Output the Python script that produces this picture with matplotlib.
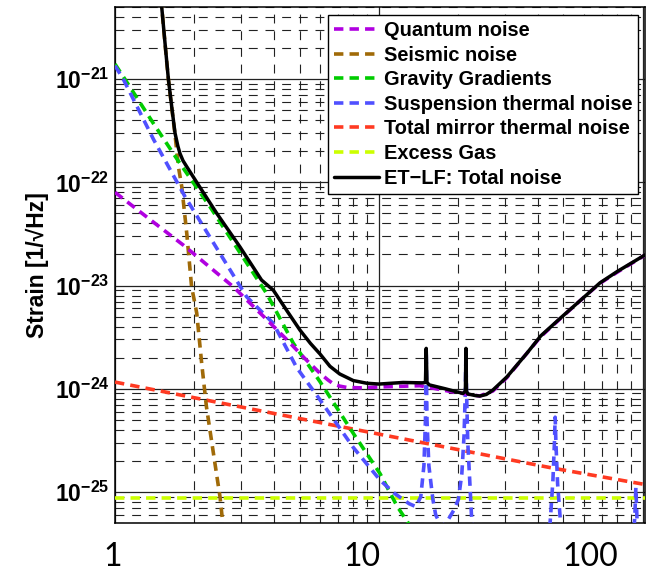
import matplotlib
matplotlib.use("Agg")
import matplotlib.pyplot as plt
from matplotlib.ticker import LogLocator, NullFormatter

# ---------------- data ----------------
quantum_f = [1.0, 1.4, 1.82, 2.81, 3.75, 4.47, 5.2, 5.98, 6.4, 6.7, 7.1, 7.54, 8.5, 10.0, 14.3,
             19.1, 22.0, 24.1, 27.0, 30.5, 36.3, 41.0, 48.7, 61.1, 68.7, 80.0, 101.8]
quantum_h = [8.0e-23, 4.1e-23, 2.45e-23, 9.7e-24, 4.7e-24, 3.0e-24, 2.0e-24, 1.41e-24, 1.22e-24,
             1.12e-24, 1.06e-24, 1.03e-24, 1.02e-24, 1.04e-24, 1.07e-24, 9.3e-25, 8.8e-25,
             8.5e-25, 9.5e-25, 1.28e-24, 2.2e-24, 3.2e-24, 4.8e-24, 8.1e-24, 1.05e-23,
             1.35e-23, 1.97e-23]

seismic_f = [1.47, 1.503, 1.547, 1.593, 1.64, 1.688, 1.74, 1.79, 1.87, 1.95, 2.04, 2.13, 2.22,
             2.36, 2.50, 2.56, 2.7]
seismic_h = [8.0e-21, 5.0e-21, 2.2e-21, 1.0e-21, 5.3e-22, 2.9e-22, 1.4e-22, 9.1e-23, 3.2e-23,
             9.8e-24, 5.4e-24, 1.76e-24, 6.7e-25, 2.36e-25, 8.9e-26, 5.0e-26, 1.5e-26]

gravity_f = [1.0, 1.09, 1.40, 1.76, 2.29, 3.75, 4.74, 5.98, 7.99, 10.1, 11.7, 12.9, 14.0]
gravity_h = [1.4e-21, 1.0e-21, 3.7e-22, 1.53e-22, 5.8e-23, 8.4e-24, 2.75e-24, 1.17e-24, 3.7e-25,
             1.5e-25, 7.3e-26, 5.0e-26, 3.0e-26]

susp_f = [1.0, 1.075, 1.40, 1.84, 3.15, 3.98, 4.88, 5.98, 7.99, 10.1, 11.5, 13.0, 13.8, 14.4,
          14.8, 15.0, 15.1, 15.2, 15.45, 16.0, 16.4, 17.3, 18.3, 19.3, 20.0, 20.6, 21.0, 21.25,
          21.35, 21.45, 21.7, 22.1, 22.4, 23.0, 30.0, 40.0, 44.0, 44.6, 45.6, 46.2, 46.5, 46.8,
          47.5, 48.6, 49.5, 60.0, 80.0, 92.0, 93.2, 94.0, 94.8, 96.0, 102.0]
susp_h = [1.35e-21, 1.0e-21, 2.6e-22, 7.3e-23, 7.8e-24, 4.3e-24, 1.6e-24, 7.8e-25, 2.7e-25,
          1.3e-25, 9.6e-26, 7.7e-26, 7.2e-26, 9.0e-26, 1.8e-25, 5.0e-25, 2.3e-24, 5.0e-25,
          1.8e-25, 8.5e-26, 6.0e-26, 4.5e-26, 5.4e-26, 6.8e-26, 8.5e-26, 1.5e-25, 3.5e-25,
          1.0e-24, 2.3e-24, 1.0e-24, 3.0e-25, 1.2e-25, 6.0e-26, 3.0e-26, 1.0e-26, 1.5e-26,
          3.5e-26, 5.5e-26, 1.3e-25, 3.0e-25, 5.3e-25, 3.0e-25, 1.2e-25, 5.5e-26, 3.5e-26,
          1.0e-26, 1.2e-26, 3.5e-26, 6.0e-26, 1.1e-25, 6.0e-26, 3.0e-26, 1.0e-26]

mirror_f = [1.0, 6.52, 45.6, 102.0]
mirror_h = [1.16e-24, 4.5e-25, 1.7e-25, 1.18e-25]

gas_f = [1.0, 102.0]
gas_h = [8.7e-26, 8.7e-26]

total_f = [1.47, 1.503, 1.547, 1.593, 1.64, 1.688, 1.73, 1.763, 1.81, 1.869, 2.04, 2.43, 2.97,
           3.59, 3.98, 4.5, 5.02, 5.5, 5.98, 6.52, 7.1, 7.99, 9.0, 10.0, 12.34, 14.6, 15.0,
           15.1, 15.2, 15.5, 17.8, 20.8, 21.25, 21.35, 21.45, 21.7, 23.1, 24.1, 25.5, 27.0,
           30.5, 36.3, 41.0, 48.7, 61.1, 68.7, 80.0, 101.8]
total_h = [8.0e-21, 5.0e-21, 2.23e-21, 1.0e-21, 5.4e-22, 3.0e-22, 2.25e-22, 1.9e-22, 1.62e-22,
           1.42e-22, 1.0e-22, 5.0e-23, 2.38e-23, 1.13e-23, 9.0e-24, 5.6e-24, 3.7e-24, 2.75e-24,
           2.17e-24, 1.65e-24, 1.39e-24, 1.2e-24, 1.13e-24, 1.11e-24, 1.15e-24, 1.14e-24,
           1.15e-24, 2.46e-24, 1.15e-24, 1.09e-24, 1.0e-24, 9.0e-25, 9.5e-25, 2.46e-24,
           9.5e-25, 8.9e-25, 8.6e-25, 8.5e-25, 8.8e-25, 9.7e-25, 1.3e-24, 2.2e-24, 3.25e-24,
           4.84e-24, 8.1e-24, 1.06e-23, 1.37e-23, 1.98e-23]

labels = ["Quantum noise", "Seismic noise", "Gravity Gradients", "Suspension thermal noise",
          "Total mirror thermal noise", "Excess Gas", "ET\u2212LF: Total noise"]
ytick_vals = [1e-25, 1e-24, 1e-23, 1e-22, 1e-21]
ytick_labels = [r"$10^{-25}$", r"$10^{-24}$", r"$10^{-23}$", r"$10^{-22}$", r"$10^{-21}$"]
xtick_labels = ["1", "10", "100"]

# ---------------- style ----------------
plt.rcParams["font.family"] = ["Liberation Sans", "DejaVu Sans"]
plt.rcParams["mathtext.fontset"] = "custom"
plt.rcParams["mathtext.rm"] = "Liberation Sans:bold"
plt.rcParams["mathtext.it"] = "Liberation Sans:bold"
plt.rcParams["mathtext.bf"] = "Liberation Sans:bold"
plt.rcParams["mathtext.default"] = "rm"

fig = plt.figure(figsize=(6.5, 5.72), dpi=100)
ax = fig.add_axes([115 / 650, 1 - 523 / 572, 530 / 650, 516 / 572])

ax.set_xscale("log")
ax.set_yscale("log")
ax.set_xlim(1, 101.8)
ax.set_ylim(5e-26, 5e-21)

dash = (0, (2.6, 1.7))
lw = 2.6
ax.plot(gas_f, gas_h, color="#CCFF00", lw=lw, ls=dash, label=labels[5], zorder=3)
ax.plot(mirror_f, mirror_h, color="#FF3A22", lw=lw, ls=dash, label=labels[4], zorder=3)
ax.plot(seismic_f, seismic_h, color="#A06A08", lw=lw, ls=dash, label=labels[1], zorder=3)
ax.plot(gravity_f, gravity_h, color="#00CC00", lw=lw, ls=dash, label=labels[2], zorder=3)
ax.plot(susp_f, susp_h, color="#5050FF", lw=lw, ls=dash, label=labels[3], zorder=4)
ax.plot(quantum_f, quantum_h, color="#B000E0", lw=lw, ls=dash, label=labels[0], zorder=4)
ax.plot(total_f, total_h, color="black", lw=2.5, label=labels[6], zorder=5,
        solid_joinstyle="round", solid_capstyle="round")

# grid
ax.xaxis.set_minor_locator(LogLocator(base=10, subs=range(2, 10)))
ax.yaxis.set_minor_locator(LogLocator(base=10, subs=range(2, 10), numticks=20))
ax.xaxis.set_minor_formatter(NullFormatter())
ax.yaxis.set_minor_formatter(NullFormatter())
ax.grid(True, which="major", color="#222222", lw=0.9, ls="-")
ax.grid(True, which="minor", color="#222222", lw=0.8, ls=(0, (8, 7)))
ax.set_axisbelow(True)

ax.set_yticks(ytick_vals)
ax.set_yticklabels(ytick_labels)
ax.tick_params(axis="y", which="both", length=0, pad=4, labelsize=16.5)
ax.set_xticks([1, 10, 100])
ax.set_xticklabels(["", "", ""])
ax.tick_params(axis="x", which="both", length=0)

for s in ax.spines.values():
    s.set_color("black")
    s.set_linewidth(1.1)

# x tick labels (placed as in the reference)
xlab_pos = [(113 - 115) / 530, (362 - 115) / 530, (590 - 115) / 530]
for xp, t in zip(xlab_pos, xtick_labels):
    ax.text(xp, -(557 - 523) / 516, t, transform=ax.transAxes, ha="center", va="center",
            fontsize=23, family=["Lato", "DejaVu Sans"])

ax.set_ylabel("Strain [1/\u221aHz]", fontsize=16.5, fontweight="bold", labelpad=4)

handles, labs = ax.get_legend_handles_labels()
order = [labels.index(l) for l in labs]
hl = sorted(zip(order, handles, labs))
leg = ax.legend([h for _, h, _ in hl], [l for _, _, l in hl], loc="upper right",
                bbox_to_anchor=((638 - 115) / 530, 1 - (15 - 7) / 516), borderaxespad=0,
                fancybox=False, framealpha=1, edgecolor="black",
                prop={"weight": "bold", "size": 14.4}, handlelength=2.25, handletextpad=0.25,
                borderpad=0.3, labelspacing=0.28)
leg.get_frame().set_linewidth(1.0)
leg.set_zorder(10)

fig.savefig("out.png", dpi=100)
